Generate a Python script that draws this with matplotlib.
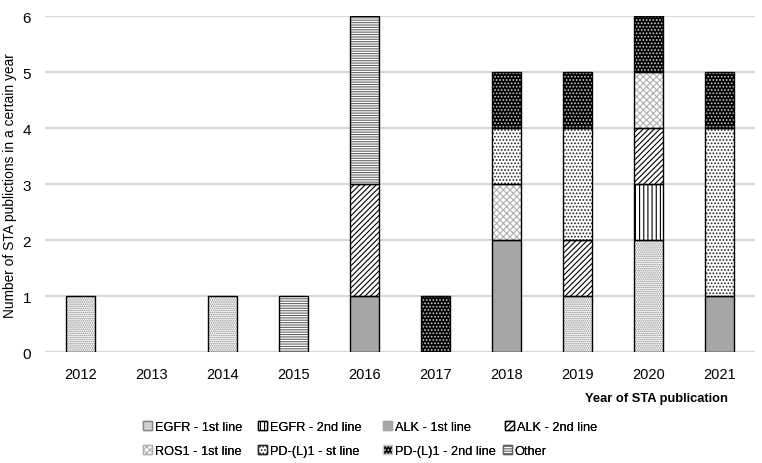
import numpy as np
import matplotlib as mpl
mpl.use('Agg')
import matplotlib.pyplot as plt
from matplotlib.patches import Patch

plt.rcParams['font.family'] = ['Liberation Sans', 'DejaVu Sans']
plt.rcParams['hatch.linewidth'] = 0.8

years = ['2012', '2013', '2014', '2015', '2016', '2017', '2018', '2019', '2020', '2021']

# publications per category per year
egfr_1st = [1, 0, 1, 0, 0, 0, 0, 1, 2, 0]
egfr_2nd = [0, 0, 0, 0, 0, 0, 0, 0, 1, 0]
alk_1st = [0, 0, 0, 0, 1, 0, 2, 0, 0, 1]
alk_2nd = [0, 0, 0, 0, 2, 0, 0, 1, 1, 0]
ros1_1st = [0, 0, 0, 0, 0, 0, 1, 0, 1, 0]
pdl1_1st = [0, 0, 0, 0, 0, 0, 1, 2, 0, 3]
pdl1_2nd = [0, 0, 0, 0, 0, 1, 1, 1, 1, 1]
other = [0, 0, 0, 1, 3, 0, 0, 0, 0, 0]

series = [
    ('EGFR - 1st line', egfr_1st),
    ('EGFR - 2nd line', egfr_2nd),
    ('ALK - 1st line', alk_1st),
    ('ALK - 2nd line', alk_2nd),
    ('ROS1 - 1st line', ros1_1st),
    ('PD-(L)1 - st line', pdl1_1st),
    ('PD-(L)1 - 2nd line', pdl1_2nd),
    ('Other', other),
]

# (face, hatch, hatch colour)
styles = [
    ('white', '........', '#888888'),
    ('white', '||||', 'black'),
    ('#a6a6a6', '', '#a6a6a6'),
    ('white', '//////', 'black'),
    ('white', 'xxxxx', '#b0b0b0'),
    ('white', '.....', '#222222'),
    ('black', '.....', '#cccccc'),
    ('white', '-------', '#666666'),
]

fig, ax = plt.subplots(figsize=(7.62, 4.64), dpi=100)
fig.subplots_adjust(left=0.059, right=0.991, top=0.963, bottom=0.239)

x = np.arange(len(years))
w = 0.41
bottom = np.zeros(len(years))
handles = []
for (label, vals), (face, hatch, hc) in zip(series, styles):
    vals = np.array(vals, dtype=float)
    mask = vals > 0
    ax.bar(x[mask], vals[mask], w, bottom=bottom[mask], color=face,
           hatch=hatch, edgecolor=hc, linewidth=0, zorder=3)
    ax.bar(x[mask], vals[mask], w, bottom=bottom[mask], fill=False,
           edgecolor='black', linewidth=1.0, zorder=4)
    bottom += vals
    handles.append(Patch(facecolor=face, hatch=hatch, edgecolor=hc, label=label))

ax.set_ylim(0, 6)
ax.set_xlim(-0.5, len(years) - 0.5)
ax.set_yticks(range(7))
ax.set_xticks(x)
ax.set_xticklabels(years)
ax.yaxis.grid(True, color='#d0d0d0', linewidth=1.2, zorder=0)
ax.set_axisbelow(True)
for s in ax.spines.values():
    s.set_visible(False)
ax.tick_params(axis='x', length=0, labelsize=10.5, pad=11)
ax.tick_params(axis='y', length=0, labelsize=11, pad=10)
ax.set_ylabel('Number of STA publictions in a certain year', fontsize=9.9, labelpad=4)
ax.set_xlabel('Year of STA publication', fontsize=9.3, fontweight='bold')
ax.xaxis.set_label_coords(0.962, -0.12, transform=ax.transAxes)
ax.xaxis.label.set_horizontalalignment('right')

# Excel style legend: each entry placed on its own
leg_x = [0.188, 0.339, 0.503, 0.663, 0.188, 0.339, 0.503, 0.66]
leg_y = [0.078, 0.078, 0.078, 0.078, 0.026, 0.026, 0.026, 0.026]
for h, lx, ly in zip(handles, leg_x, leg_y):
    leg = fig.legend(handles=[h], loc='center left', bbox_to_anchor=(lx, ly),
                     frameon=False, fontsize=9.2, handlelength=0.7,
                     handleheight=0.7, handletextpad=0.2,
                     borderaxespad=0, borderpad=0)
    fig.add_artist(leg)

fig.savefig('out.png', dpi=100)
